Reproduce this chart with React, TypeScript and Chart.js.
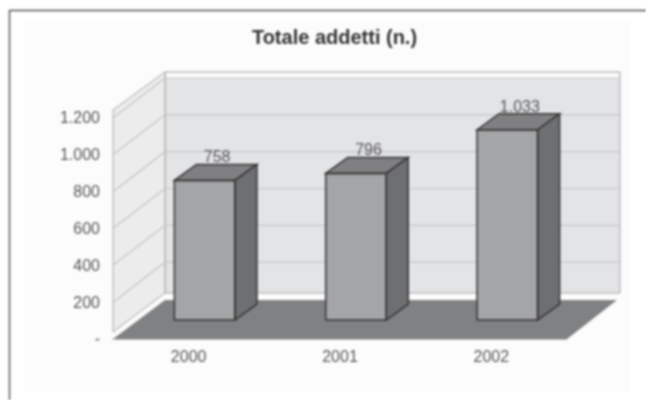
import React, { useEffect, useRef } from "react";
import { Chart, registerables } from "chart.js";

Chart.register(...registerables);

const categories = ["2000", "2001", "2002"];
const addetti = [758, 796, 1033];
const valueLabels = ["758", "796", "1.033"];
const yTicks = [0, 200, 400, 600, 800, 1000, 1200];
const yTickLabels = ["-", "200", "400", "600", "800", "1.000", "1.200"];
const titleText = "Totale addetti (n.)";

const FONT = "'Liberation Sans', Arial, sans-serif";

function poly(ctx: CanvasRenderingContext2D, pts: number[][], fill: string | null, stroke: string | null, lw = 1) {
  ctx.beginPath();
  pts.forEach((p, i) => (i ? ctx.lineTo(p[0], p[1]) : ctx.moveTo(p[0], p[1])));
  ctx.closePath();
  if (fill) {
    ctx.fillStyle = fill;
    ctx.fill();
  }
  if (stroke) {
    ctx.strokeStyle = stroke;
    ctx.lineWidth = lw;
    ctx.stroke();
  }
}

const scene = {
  id: "scene",
  afterLayout(chart: any) {
    // widen the label clip box of the value axis to the canvas edge
    chart.scales.y.left = 0;
  },
  beforeDraw(chart: any) {
    const { ctx, width, height } = chart;
    ctx.save();
    ctx.fillStyle = "#ffffff";
    ctx.fillRect(0, 0, width, height);
    ctx.fillStyle = "#fcfcfc";
    ctx.fillRect(24, 20, 606, 372);
    ctx.strokeStyle = "#4f4f4f";
    ctx.lineWidth = 1.4;
    ctx.beginPath();
    ctx.moveTo(9.5, height + 5);
    ctx.lineTo(9.5, 10.5);
    ctx.lineTo(width + 5, 10.5);
    ctx.stroke();
    ctx.restore();
  },
  beforeDatasetsDraw(chart: any) {
    const { ctx } = chart;
    const y = chart.scales.y;
    ctx.save();
    poly(ctx, [[165, 72], [620, 72], [620, 293], [165, 293]], "#e3e4e6", "#a6a6a6");
    ctx.fillStyle = "#fbfbfb";
    ctx.fillRect(166, 73, 453, 5);
    poly(ctx, [[113, 110], [165, 72], [165, 293], [113, 332]], "#ececec", "#a6a6a6");
    ctx.strokeStyle = "#c4c5c7";
    ctx.lineWidth = 1.2;
    yTicks.slice(1).forEach((v) => {
      const py = y.getPixelForValue(v);
      ctx.beginPath();
      ctx.moveTo(113, py + 19);
      ctx.lineTo(165, py - 21);
      ctx.lineTo(620, py - 21);
      ctx.stroke();
    });
    poly(ctx, [[113, 339], [165, 300], [617, 300], [567, 339]], "#808183", null);
    ctx.strokeStyle = "#bdbdbd";
    ctx.beginPath();
    ctx.moveTo(112, 339.5);
    ctx.lineTo(567, 339.5);
    ctx.stroke();
    ctx.restore();
  },
  afterDatasetsDraw(chart: any) {
    const { ctx } = chart;
    const dx = 22;
    const dy = 16;
    ctx.save();
    chart.getDatasetMeta(0).data.forEach((bar: any, i: number) => {
      const half = bar.width / 2;
      const l = bar.x - half;
      const r = bar.x + half;
      const t = bar.y;
      const b = bar.base;
      poly(ctx, [[l, t], [l + dx, t - dy], [r + dx, t - dy], [r, t]], "#808082", "#353535", 1.5);
      poly(ctx, [[r, t], [r + dx, t - dy], [r + dx, b - dy], [r, b]], "#6e6f71", "#353535", 1.5);
      ctx.strokeStyle = "#353535";
      ctx.lineWidth = 1.5;
      ctx.strokeRect(l, t, r - l, b - t);
      ctx.fillStyle = "#555555";
      ctx.font = `16px ${FONT}`;
      ctx.textAlign = "center";
      ctx.textBaseline = "middle";
      ctx.fillText(valueLabels[i], bar.x + 12.5, t - 22.5);
    });
    ctx.restore();
  },
};

export default function App() {
  const ref = useRef<HTMLCanvasElement | null>(null);

  useEffect(() => {
    const chart = new Chart(ref.current as HTMLCanvasElement, {
      type: "bar",
      data: {
        labels: categories,
        datasets: [
          {
            data: addetti,
            backgroundColor: "#a4a5a7",
            borderWidth: 0,
            barPercentage: 1,
            categoryPercentage: 0.4,
          },
        ],
      },
      options: {
        responsive: false,
        animation: false,
        layout: { padding: { left: 86, right: 63, top: 0, bottom: 0 } },
        plugins: {
          legend: { display: false },
          tooltip: { enabled: false },
          title: {
            display: true,
            text: titleText,
            color: "#333333",
            font: { family: FONT, size: 20, weight: "bold", lineHeight: 1.2 },
            padding: { top: 26, bottom: 49 },
          },
        },
        scales: {
          x: {
            grid: { display: false, drawTicks: false },
            border: { display: false },
            afterFit: (s: any) => {
              s.height = 80;
            },
            ticks: {
              color: "#555555",
              font: { family: FONT, size: 16 },
              padding: 28,
              labelOffset: -16,
              maxRotation: 0,
            },
          },
          y: {
            min: 0,
            max: 1200,
            grid: { display: false, drawTicks: false },
            border: { display: false },
            afterFit: (s: any) => {
              s.width = 43;
            },
            afterBuildTicks: (s: any) => {
              s.ticks = yTicks.map((value) => ({ value }));
            },
            ticks: {
              color: "#555555",
              font: { family: FONT, size: 16 },
              padding: 29,
              labelOffset: 20,
              callback: (v: any) => yTickLabels[yTicks.indexOf(Number(v))],
            },
          },
        },
      },
      plugins: [scene],
    } as any);
    return () => chart.destroy();
  }, []);

  return (
    <canvas
      ref={ref}
      width={646}
      height={400}
      style={{ position: "fixed", left: 0, top: 0, width: 646, height: 400, filter: "blur(0.8px)" }}
    />
  );
}
